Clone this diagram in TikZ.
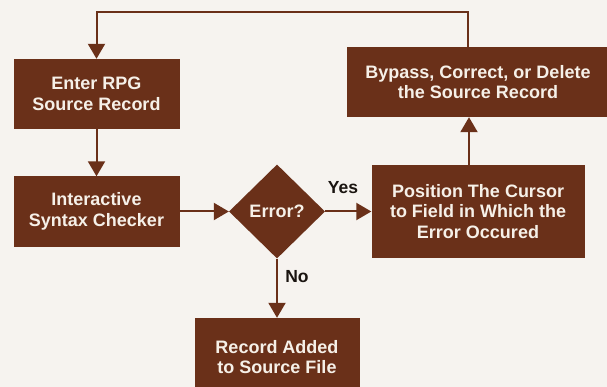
\documentclass[tikz,border=0pt]{standalone}
\usepackage{fontspec}
\setmainfont{Liberation Sans}
\usetikzlibrary{shapes.geometric,arrows.meta}
\definecolor{brn}{HTML}{6A3019}
\definecolor{bg}{HTML}{F6F3EF}
\definecolor{txt}{HTML}{F6F0E8}
\definecolor{lbl}{HTML}{1A1410}
\tikzset{
  box/.style={rectangle, fill=brn, draw=none, text=txt, align=center, inner sep=0pt,
    font=\fontsize{18}{20.8}\selectfont\bfseries},
  decide/.style={diamond, fill=brn, draw=none, text=txt, inner sep=0pt,
    minimum width=96pt, minimum height=94pt, font=\fontsize{18}{20.8}\selectfont\bfseries},
  conn/.style={draw=brn, line width=2pt, -{Triangle[width=17pt,length=15pt]}},
  lab/.style={text=lbl, font=\fontsize{17.5}{20}\selectfont\bfseries, inner sep=0pt}
}
\begin{document}
\begin{tikzpicture}[x=1pt,y=-1pt]
\useasboundingbox (0,0) rectangle (607,387);
\fill[bg] (0,0) rectangle (607,387);
\clip (0,0) rectangle (607,387);
\node[box, minimum width=166pt, minimum height=70pt] (enter) at (96.5,94) {Enter RPG\\Source Record};
\node[box, minimum width=166pt, minimum height=70pt] (inter) at (96.5,211.5) {Interactive\\Syntax Checker};
\node[decide] (dia) at (277,211.5) {Error?};
\node[box, minimum width=213pt, minimum height=93pt] (pos) at (478,211.5) {Position The Cursor\\to Field in Which the\\Error Occured};
\node[box, minimum width=262pt, minimum height=70pt] (byp) at (478,82) {Bypass, Correct, or Delete\\the Source Record};
\node[box, minimum width=165pt, minimum height=78pt] (rec) at (277,357) {Record Added\\to Source File};
\node[lab] (yes) at (343,188) {Yes};
\node[lab] (no) at (297,277) {No};
\draw[conn] (enter.south) -- (inter.north);
\draw[conn] (inter.east) -- (dia.west);
\draw[conn] (dia.east) -- (pos.west);
\draw[conn] (dia.south) -- (rec.north);
\draw[conn] ([xshift=-9pt]pos.north) -- ([xshift=-9pt]pos.north |- byp.south);
\draw[conn] ([xshift=-10pt]byp.north) -- ++(0,-35) -| (enter.north);
\end{tikzpicture}
\end{document}
